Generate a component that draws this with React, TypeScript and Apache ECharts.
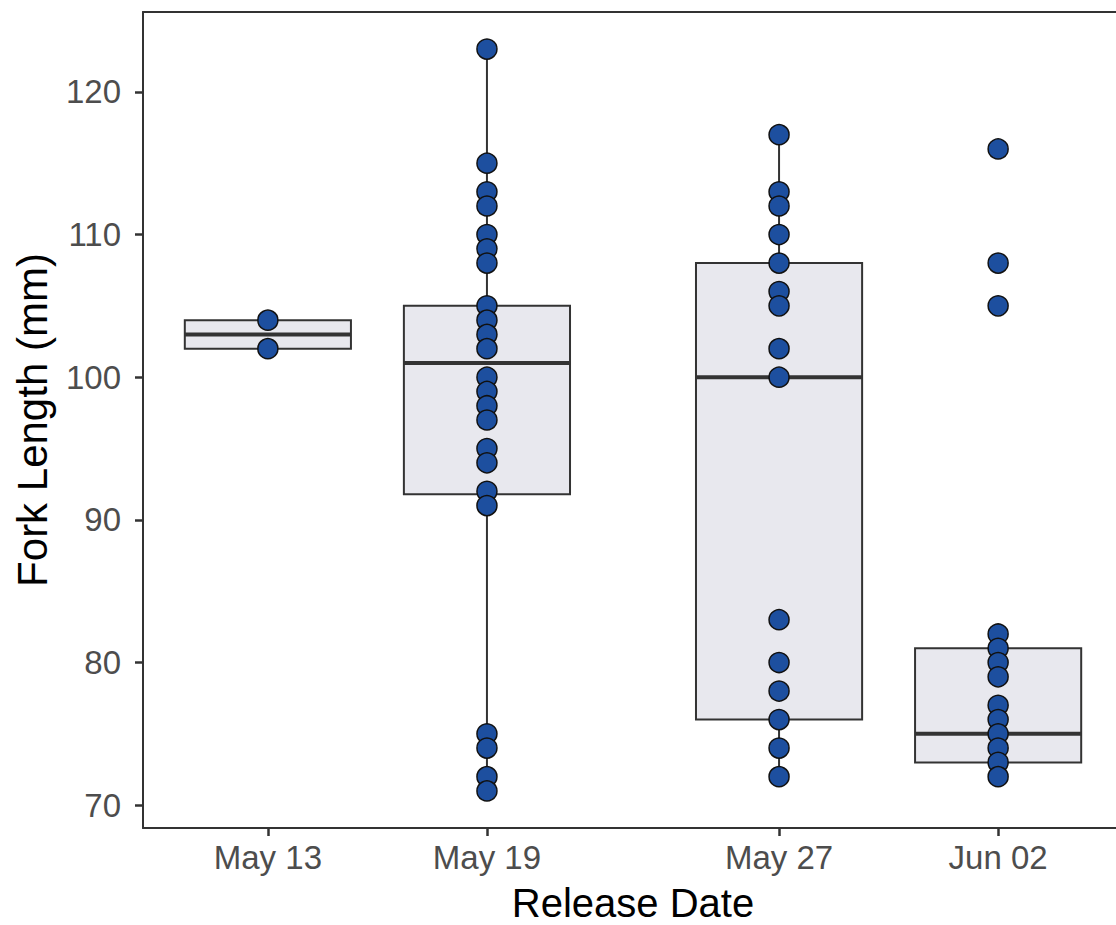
import React, { useEffect, useRef } from "react";
import * as echarts from "echarts";

// ---- data ----
const DATES = ["2021-05-13", "2021-05-19", "2021-05-27", "2021-06-02"];
const DATE_LABELS = ["May 13", "May 19", "May 27", "Jun 02"];

const FL_MAY13 = [104, 102];
const FL_MAY19 = [123, 115, 113, 112, 110, 109, 108, 105, 104, 103, 102, 100, 99, 98, 97, 95, 94, 92, 91, 75, 74, 72, 71];
const FL_MAY27 = [117, 113, 112, 110, 108, 106, 105, 102, 100, 83, 80, 78, 76, 74, 72];
const FL_JUN02 = [116, 108, 105, 82, 81, 80, 79, 77, 76, 75, 74, 73, 72];
const FORK_LENGTHS = [FL_MAY13, FL_MAY19, FL_MAY27, FL_JUN02];

const BOX_Q1 = [102, 91.8, 76, 73];
const BOX_MEDIAN = [103, 101, 100, 75];
const BOX_Q3 = [104, 105, 108, 81];
const WHISKER_LO = [102, 71, 72, 72];
const WHISKER_HI = [104, 123, 117, 82];

const Y_TICKS = [70, 80, 90, 100, 110, 120];
const Y_MIN = 68.4;
const Y_MAX = 125.6;

const DAY = 86400000;
const ts = (d: string) => Date.parse(d + "T00:00:00Z");
const X_PAD_DAYS = 3.42;
const BOX_WIDTH_DAYS = 4.55;

const FONT = "'Liberation Sans', Arial, sans-serif";
const DARK = "#333333";

export default function App() {
  const ref = useRef<HTMLDivElement>(null);

  useEffect(() => {
    if (!ref.current) return;
    const chart = echarts.init(ref.current, undefined, { renderer: "svg" });
    const xTimes = DATES.map(ts);
    const xMin = xTimes[0] - X_PAD_DAYS * DAY;
    const xMax = xTimes[xTimes.length - 1] + X_PAD_DAYS * DAY;

    const boxData = xTimes.map((t, i) => [t, BOX_Q1[i], BOX_MEDIAN[i], BOX_Q3[i], WHISKER_LO[i], WHISKER_HI[i]]);
    const pointData: number[][] = [];
    FORK_LENGTHS.forEach((arr, i) => arr.forEach((v) => pointData.push([xTimes[i], v])));

    const labelFor = (v: number) => {
      const idx = xTimes.indexOf(v);
      return idx >= 0 ? DATE_LABELS[idx] : "";
    };

    chart.setOption({
      animation: false,
      backgroundColor: "#ffffff",
      textStyle: { fontFamily: FONT },
      grid: { left: 143, top: 12, right: -7, bottom: 97, containLabel: false, outerBoundsMode: "none" },
      xAxis: [
        {
          type: "value",
          min: xMin,
          max: xMax,
          position: "bottom",
          name: "Release Date",
          nameLocation: "middle",
          nameGap: 55,
          nameTextStyle: { fontSize: 40, lineHeight: 40, color: "#000000", fontFamily: FONT },
          axisLine: { show: true, onZero: false, lineStyle: { color: DARK, width: 2 } },
          axisTick: { show: true, customValues: xTimes, length: 8, lineStyle: { color: DARK, width: 2.5 } },
          axisLabel: {
            customValues: xTimes,
            formatter: labelFor,
            fontSize: 33,
            color: "#4d4d4d",
            margin: 13,
            fontFamily: FONT,
          },
          splitLine: { show: false },
        },
        {
          type: "value",
          min: xMin,
          max: xMax,
          position: "top",
          axisLine: { show: true, onZero: false, lineStyle: { color: DARK, width: 2 } },
          axisTick: { show: false },
          axisLabel: { show: false },
          splitLine: { show: false },
        },
      ],
      yAxis: {
        type: "value",
        min: Y_MIN,
        max: Y_MAX,
        name: "Fork Length (mm)",
        nameLocation: "middle",
        nameGap: 90,
        nameTextStyle: { fontSize: 42, color: "#000000", fontFamily: FONT },
        axisLine: { show: true, onZero: false, lineStyle: { color: DARK, width: 2 } },
        axisTick: { show: true, customValues: Y_TICKS, length: 8, lineStyle: { color: DARK, width: 2.5 } },
        axisLabel: { customValues: Y_TICKS, fontSize: 33, color: "#4d4d4d", margin: 22, fontFamily: FONT },
        splitLine: { show: false },
      },
      series: [
        {
          type: "custom",
          xAxisIndex: 0,
          data: boxData,
          z: 2,
          renderItem: (params: any, api: any) => {
            const x = api.value(0);
            const q1 = api.value(1);
            const med = api.value(2);
            const q3 = api.value(3);
            const lo = api.value(4);
            const hi = api.value(5);
            const halfW = api.size([BOX_WIDTH_DAYS * DAY, 0])[0] / 2;
            const pQ1 = api.coord([x, q1]);
            const pQ3 = api.coord([x, q3]);
            const pMed = api.coord([x, med]);
            const pLo = api.coord([x, lo]);
            const pHi = api.coord([x, hi]);
            const lineStyle = { stroke: DARK, lineWidth: 2 };
            return {
              type: "group",
              children: [
                { type: "line", shape: { x1: pHi[0], y1: pHi[1], x2: pQ3[0], y2: pQ3[1] }, style: lineStyle },
                { type: "line", shape: { x1: pQ1[0], y1: pQ1[1], x2: pLo[0], y2: pLo[1] }, style: lineStyle },
                {
                  type: "rect",
                  shape: { x: pQ3[0] - halfW, y: pQ3[1], width: halfW * 2, height: pQ1[1] - pQ3[1] },
                  style: { fill: "#e8e8ee", stroke: DARK, lineWidth: 2 },
                },
                {
                  type: "line",
                  shape: { x1: pMed[0] - halfW, y1: pMed[1], x2: pMed[0] + halfW, y2: pMed[1] },
                  style: { stroke: DARK, lineWidth: 4 },
                },
              ],
            };
          },
        },
        {
          type: "scatter",
          xAxisIndex: 0,
          data: pointData,
          symbol: "circle",
          symbolSize: 20,
          z: 3,
          itemStyle: { color: "#1d4f9f", borderColor: "#111111", borderWidth: 1.5, opacity: 1 },
          emphasis: { disabled: true },
        },
      ],
    });
    return () => chart.dispose();
  }, []);

  return (
    <div
      ref={ref}
      style={{ position: "absolute", left: 0, top: 0, width: 1116, height: 925, background: "#fff" }}
    />
  );
}
